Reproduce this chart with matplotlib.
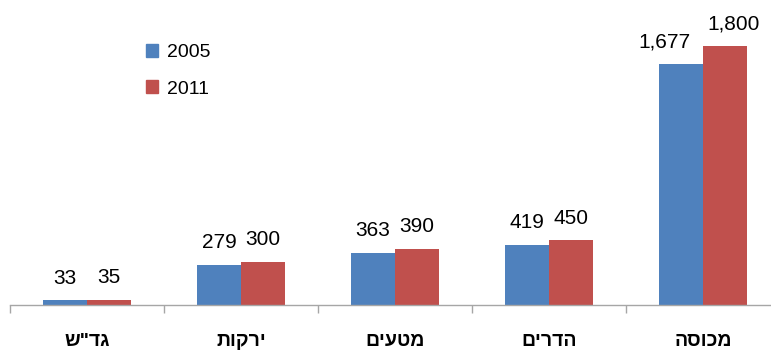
import numpy as np
import matplotlib
matplotlib.use("Agg")
import matplotlib.pyplot as plt
from matplotlib.patches import Patch

plt.rcParams['font.family'] = ['Liberation Sans', 'DejaVu Sans']

# categories (logical Hebrew order, left to right on the axis)
categories = ['גד"ש', 'ירקות', 'מטעים', 'הדרים', 'מכוסה']
years = ['2005', '2011']
vals_2005 = [33, 279, 363, 419, 1677]
vals_2011 = [35, 300, 390, 450, 1800]

colors = ['#4F81BD', '#C0504D']

# matplotlib has no bidi support, so flip the Hebrew strings for display
def rtl(s):
    return s[::-1]

fig = plt.figure(figsize=(7.71, 3.52), dpi=100)
ax = fig.add_axes([10 / 771, 47 / 352, 770 / 771, 288 / 352])

x = np.arange(len(categories))
w = 0.286
b1 = ax.bar(x - w / 2, vals_2005, w, color=colors[0], label=years[0])
b2 = ax.bar(x + w / 2, vals_2011, w, color=colors[1], label=years[1])

# value labels; the four-digit ones get pushed apart so they don't collide
for bars, side in ((b1, -1), (b2, 1)):
    for rect, v in zip(bars, bars.datavalues):
        dx = 0
        if v >= 1000:
            dx = -12 if side < 0 else 6
        ax.annotate(f'{v:,.0f}', (rect.get_x() + rect.get_width() / 2, v),
                    xytext=(dx, 9), textcoords='offset points',
                    ha='center', va='bottom', fontsize=15, color='black')

ax.set_xlim(-0.5, 4.5)
ax.set_ylim(0, 2000)

for s in ('left', 'right', 'top'):
    ax.spines[s].set_visible(False)
ax.spines['bottom'].set_color('#A6A6A6')
ax.spines['bottom'].set_linewidth(1.0)
ax.set_yticks([])

ax.set_xticks(x)
ax.set_xticklabels([rtl(c) for c in categories], fontsize=14, fontweight='bold')
ax.tick_params(axis='x', which='major', length=0, pad=20)
ax.set_xticks(np.arange(-0.5, 5.0, 1.0), minor=True)
ax.tick_params(axis='x', which='minor', length=6, color='#A6A6A6', width=1.0)

handles = [Patch(color=c, label=y) for c, y in zip(colors, years)]
fig.legend(handles=handles, loc='upper left',
           bbox_to_anchor=(136 / 771, 1 - 34 / 352),
           frameon=False, fontsize=14, borderpad=0,
           handlelength=0.65, handleheight=0.65, handletextpad=0.45,
           labelspacing=1.0)

fig.savefig('out.png', dpi=100)
